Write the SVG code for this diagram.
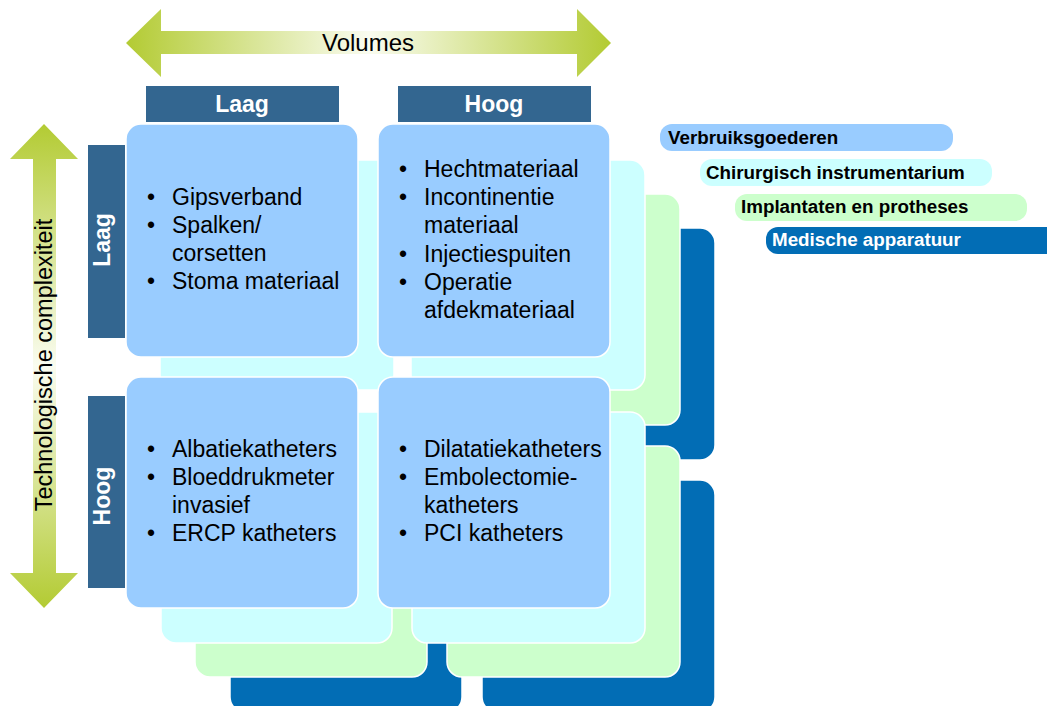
<svg xmlns="http://www.w3.org/2000/svg" width="1047" height="706" viewBox="0 0 1047 706">
<defs>
<linearGradient id="gh" x1="0" y1="0" x2="1" y2="0">
<stop offset="0" stop-color="#B3CB33"/><stop offset="0.5" stop-color="#FAFCF0"/><stop offset="1" stop-color="#B3CB33"/>
</linearGradient>
<linearGradient id="gv" x1="0" y1="0" x2="0" y2="1">
<stop offset="0" stop-color="#B3CB33"/><stop offset="0.5" stop-color="#FAFCF0"/><stop offset="1" stop-color="#B3CB33"/>
</linearGradient>
<style>
.c{stroke:#fff;stroke-width:1.5}
.l4{fill:#026DB5}.l3{fill:#CCFFCC}.l2{fill:#CCFFFF}.l1{fill:#99CCFF}
.hd{fill:#336690}
.ht{font-family:"Liberation Sans",Arial,sans-serif;font-weight:bold;font-size:23px;fill:#fff;text-anchor:middle}
.t{font-family:"Liberation Sans",Arial,sans-serif;font-size:23px;fill:#000}
.lg{font-family:"Liberation Sans",Arial,sans-serif;font-weight:bold;font-size:18.8px;fill:#000}
.ax{font-family:"Liberation Sans",Arial,sans-serif;font-size:23.5px;fill:#000;text-anchor:middle}
</style>
</defs>
<rect width="1047" height="706" fill="#fff"/>
<g id="axis-volumes">
<polygon points="126,43 161,9 161,31 577,31 577,9 611,43 577,77 577,54 161,54 161,77" fill="url(#gh)"/>
<text class="ax" x="368" y="51" style="font-size:24px">Volumes</text>
</g>
<g id="axis-complexiteit">
<polygon points="44,124 78,159 56,159 56,573 78,573 44,608 10,573 33,573 33,159 10,159" fill="url(#gv)"/>
<text class="ax" transform="translate(52,365) rotate(-90)">Technologische complexiteit</text>
</g>
<g id="layer-medische-apparatuur">
<rect class="c l4" x="481" y="228" width="234" height="232" rx="15"/>
<rect class="c l4" x="230" y="480" width="232" height="232" rx="15"/>
<rect class="c l4" x="482" y="480" width="233" height="232" rx="15"/>
</g>
<g id="layer-implantaten">
<rect class="c l3" x="446" y="194" width="234" height="231" rx="15"/>
<rect class="c l3" x="195" y="446" width="232" height="231" rx="15"/>
<rect class="c l3" x="447" y="446" width="233" height="231" rx="15"/>
</g>
<g id="layer-chirurgisch">
<rect class="c l2" x="160" y="160" width="234" height="230" rx="15"/>
<rect class="c l2" x="411" y="160" width="234" height="230" rx="15"/>
<rect class="c l2" x="161" y="412" width="231" height="231" rx="15"/>
<rect class="c l2" x="412" y="412" width="233" height="231" rx="15"/>
</g>
<g id="cell-laag-laag">
<rect class="c l1" x="126" y="124" width="232" height="233" rx="15"/>
<text class="t" x="147" y="205">•</text><text class="t" x="172" y="205">Gipsverband</text>
<text class="t" x="147" y="233">•</text><text class="t" x="172" y="233">Spalken/</text>
<text class="t" x="172" y="261">corsetten</text>
<text class="t" x="147" y="289">•</text><text class="t" x="172" y="289">Stoma materiaal</text>
</g>
<g id="cell-hoog-laag">
<rect class="c l1" x="378" y="124" width="232" height="233" rx="15"/>
<text class="t" x="399" y="177">•</text><text class="t" x="424" y="177">Hechtmateriaal</text>
<text class="t" x="399" y="205">•</text><text class="t" x="424" y="205">Incontinentie</text>
<text class="t" x="424" y="233">materiaal</text>
<text class="t" x="399" y="262">•</text><text class="t" x="424" y="262">Injectiespuiten</text>
<text class="t" x="399" y="290">•</text><text class="t" x="424" y="290">Operatie</text>
<text class="t" x="424" y="318">afdekmateriaal</text>
</g>
<g id="cell-laag-hoog">
<rect class="c l1" x="126" y="377" width="232" height="231" rx="15"/>
<text class="t" x="147" y="457">•</text><text class="t" x="172" y="457">Albatiekatheters</text>
<text class="t" x="147" y="485">•</text><text class="t" x="172" y="485">Bloeddrukmeter</text>
<text class="t" x="172" y="513">invasief</text>
<text class="t" x="147" y="541">•</text><text class="t" x="172" y="541">ERCP katheters</text>
</g>
<g id="cell-hoog-hoog">
<rect class="c l1" x="378" y="377" width="232" height="231" rx="15"/>
<text class="t" x="399" y="457">•</text><text class="t" x="424" y="457">Dilatatiekatheters</text>
<text class="t" x="399" y="485">•</text><text class="t" x="424" y="485">Embolectomie-</text>
<text class="t" x="424" y="513">katheters</text>
<text class="t" x="399" y="541">•</text><text class="t" x="424" y="541">PCI katheters</text>
</g>
<g id="header-volume-laag">
<rect class="hd" x="146" y="86" width="193" height="36"/>
<text class="ht" x="242" y="112">Laag</text>
</g>
<g id="header-volume-hoog">
<rect class="hd" x="398" y="86" width="193" height="36"/>
<text class="ht" x="494" y="112">Hoog</text>
</g>
<g id="header-complex-laag">
<rect class="hd" x="88" y="145" width="37" height="193"/>
<text class="ht" transform="translate(110,240) rotate(-90)">Laag</text>
</g>
<g id="header-complex-hoog">
<rect class="hd" x="88" y="396" width="37" height="192"/>
<text class="ht" transform="translate(110,496) rotate(-90)">Hoog</text>
</g>
<g id="legend-verbruiksgoederen">
<rect class="l1" x="660" y="124" width="293" height="27" rx="12"/>
<text class="lg" x="668" y="144">Verbruiksgoederen</text>
</g>
<g id="legend-chirurgisch">
<rect class="l2" x="700" y="159" width="292" height="27" rx="12"/>
<text class="lg" x="706" y="179">Chirurgisch instrumentarium</text>
</g>
<g id="legend-implantaten">
<rect class="l3" x="735" y="194" width="292" height="27" rx="12"/>
<text class="lg" x="741" y="213">Implantaten en protheses</text>
</g>
<g id="legend-medische">
<rect class="l4" x="766" y="227" width="300" height="27" rx="12"/>
<text class="lg" x="772" y="246" style="fill:#fff">Medische apparatuur</text>
</g>
<g id="connectors"></g>
</svg>
